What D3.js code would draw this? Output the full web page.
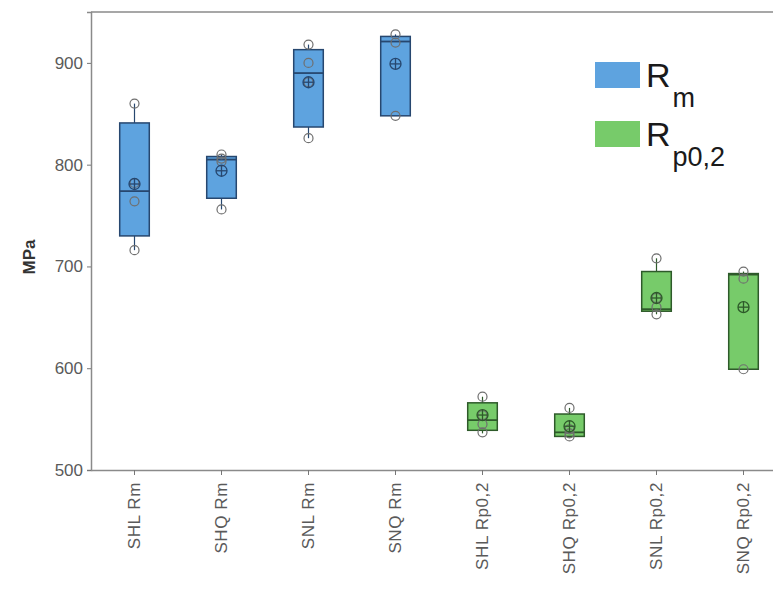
<!DOCTYPE html>
<html lang="en">
<head>
  <meta charset="UTF-8" />
  <title>Rm / Rp0,2 box plot</title>
  <style>
    body { margin: 0; padding: 0; background: #fff; font-family: "Liberation Sans", Arial, sans-serif; }
    svg { display: block; }
    .tick text { fill: #5a5a5a; }
  </style>
  <script src="https://d3js.org/d3.v7.min.js"></script>
</head>
<body>
  <svg width="773" height="589"></svg>

  <script>
    // values (MPa)
    const categories = ["SHL Rm", "SHQ Rm", "SNL Rm", "SNQ Rm", "SHL Rp0,2", "SHQ Rp0,2", "SNL Rp0,2", "SNQ Rp0,2"];
    const groups = ["Rm", "Rm", "Rm", "Rm", "Rp", "Rp", "Rp", "Rp"];
    const lowVals = [716, 756, 826, 848, 536, 532, 653, 599];
    const q1Vals = [730, 767, 837, 848, 539, 533, 656, 599];
    const medianVals = [774, 805, 890, 921, 549, 537, 658, 692];
    const q3Vals = [841, 808, 913, 926, 566, 555, 695, 693];
    const highVals = [860, 810, 918, 928, 572, 561, 708, 695];
    const meanVals = [781, 794, 881, 899, 554, 543, 669, 660];
    const pointVals = [
      [860, 782, 764, 716],
      [810, 806, 803, 756],
      [918, 900, 881, 826],
      [928, 920, 848],
      [572, 554, 545, 537],
      [561, 540, 536, 533],
      [708, 669, 660, 653],
      [695, 688, 599]
    ];
    const yTicks = [500, 600, 700, 800, 900];

    const fills = { Rm: "#5ea3df", Rp: "#77cb6a" };
    const strokes = { Rm: "#27476f", Rp: "#2e5a2a" };

    const svg = d3.select("svg");
    const mLeft = 91, mTop = 12, mBottom = 470;
    const step = 87;

    const x = d3.scaleBand().domain(categories).range([mLeft, mLeft + step * categories.length]).padding(0);
    const y = d3.scaleLinear().domain([500, 950]).range([mBottom, mTop]);
    const boxW = x.bandwidth() * 0.34;
    const cx = c => x(c) + x.bandwidth() / 2;

    // frame top line
    svg.append("line")
      .attr("x1", mLeft).attr("x2", 773)
      .attr("y1", mTop).attr("y2", mTop)
      .attr("stroke", "#8a8a8a").attr("stroke-width", 1.5);

    const yAxis = svg.append("g")
      .attr("transform", `translate(${mLeft},0)`)
      .call(d3.axisLeft(y).tickValues(yTicks).tickSize(4).tickPadding(4));
    yAxis.select(".domain").attr("stroke", "#8a8a8a").attr("stroke-width", 1.5);
    yAxis.selectAll(".tick line").attr("stroke", "#777");
    yAxis.selectAll("text").attr("font-size", 17).attr("font-family", "Liberation Sans, Arial, sans-serif");

    const xAxis = svg.append("g")
      .attr("transform", `translate(0,${mBottom})`)
      .call(d3.axisBottom(x).tickSize(5).tickSizeOuter(0));
    xAxis.select(".domain").attr("stroke", "#8a8a8a").attr("stroke-width", 1.5);
    xAxis.selectAll(".tick line").attr("stroke", "#777");
    xAxis.selectAll("text")
      .attr("font-size", 17)
      .attr("letter-spacing", 0.6)
      .attr("font-family", "Liberation Sans, Arial, sans-serif")
      .attr("transform", "rotate(-90)")
      .attr("text-anchor", "end")
      .attr("x", -12)
      .attr("y", 0)
      .attr("dy", "0.35em");

    svg.append("text")
      .attr("transform", `translate(35,${(mTop + mBottom) / 2 + 16}) rotate(-90)`)
      .attr("text-anchor", "middle")
      .attr("font-size", 17)
      .attr("font-weight", "bold")
      .attr("fill", "#333")
      .text("MPa");

    const rows = categories.map((c, i) => ({
      c, g: groups[i], low: lowVals[i], q1: q1Vals[i], med: medianVals[i],
      q3: q3Vals[i], high: highVals[i], mean: meanVals[i], pts: pointVals[i]
    }));

    const box = svg.append("g").selectAll("g")
      .data(rows)
      .join("g");

    // whiskers
    box.append("line")
      .attr("x1", d => cx(d.c)).attr("x2", d => cx(d.c))
      .attr("y1", d => y(d.high)).attr("y2", d => y(d.q3))
      .attr("stroke", d => strokes[d.g]).attr("stroke-width", 1.2);
    box.append("line")
      .attr("x1", d => cx(d.c)).attr("x2", d => cx(d.c))
      .attr("y1", d => y(d.q1)).attr("y2", d => y(d.low))
      .attr("stroke", d => strokes[d.g]).attr("stroke-width", 1.2);

    box.append("rect")
      .attr("x", d => cx(d.c) - boxW / 2)
      .attr("width", boxW)
      .attr("y", d => y(d.q3))
      .attr("height", d => Math.max(1, y(d.q1) - y(d.q3)))
      .attr("fill", d => fills[d.g])
      .attr("stroke", d => strokes[d.g])
      .attr("stroke-width", 1.5);

    box.append("line")
      .attr("x1", d => cx(d.c) - boxW / 2).attr("x2", d => cx(d.c) + boxW / 2)
      .attr("y1", d => y(d.med)).attr("y2", d => y(d.med))
      .attr("stroke", d => strokes[d.g]).attr("stroke-width", 1.8);

    // individual values
    box.selectAll("circle.pt")
      .data(d => d.pts.map(v => ({ v, c: d.c })))
      .join("circle")
      .attr("class", "pt")
      .attr("cx", d => cx(d.c))
      .attr("cy", d => y(d.v))
      .attr("r", 4.5)
      .attr("fill", "none")
      .attr("stroke", "#6f6f6f")
      .attr("stroke-width", 1.2);

    // mean marker (circle with cross)
    const mean = box.append("g")
      .attr("transform", d => `translate(${cx(d.c)},${y(d.mean)})`)
      .attr("stroke", d => strokes[d.g])
      .attr("stroke-width", 1.3)
      .attr("fill", "none");
    mean.append("circle").attr("r", 5.5);
    mean.append("line").attr("x1", -5.5).attr("x2", 5.5);
    mean.append("line").attr("y1", -5.5).attr("y2", 5.5);

    // legend
    const legendItems = [
      { g: "Rm", sub: "m" },
      { g: "Rp", sub: "p0,2" }
    ];
    const legend = svg.append("g").attr("transform", "translate(595,62)");
    const li = legend.selectAll("g")
      .data(legendItems)
      .join("g")
      .attr("transform", (d, i) => `translate(0,${i * 59})`);
    li.append("rect")
      .attr("width", 45).attr("height", 26)
      .attr("fill", d => fills[d.g]);
    const lt = li.append("text")
      .attr("x", 51).attr("y", 25)
      .attr("fill", "#1a1a1a")
      .attr("font-family", "Liberation Sans, Arial, sans-serif");
    lt.append("tspan").attr("font-size", 34).text("R");
    lt.append("tspan").attr("font-size", 27).attr("dy", 20).attr("dx", 2).text(d => d.sub);
  </script>
</body>
</html>
